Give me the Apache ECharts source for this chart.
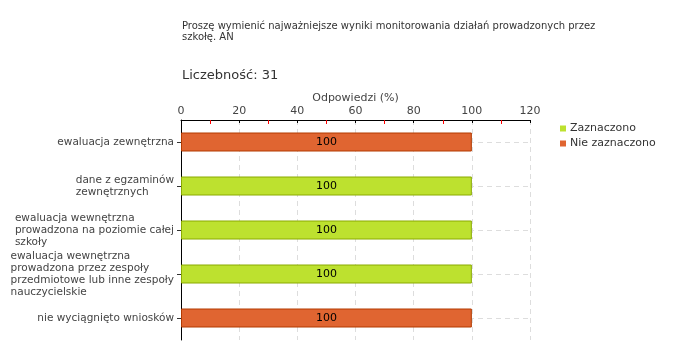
<!DOCTYPE html>
<html><head><meta charset="utf-8">
<script src="https://cdn.jsdelivr.net/npm/echarts@6/dist/echarts.min.js"></script>
<style>html,body{margin:0;padding:0;background:#fff}#c{width:680px;height:360px}</style>
</head><body><div id="c"></div>
<script>
const categories = [
  ["ewaluacja zewnętrzna"],
  ["dane z egzaminów", "zewnętrznych"],
  ["ewaluacja wewnętrzna", "prowadzona na poziomie całej", "szkoły"],
  ["ewaluacja wewnętrzna", "prowadzona przez zespoły", "przedmiotowe lub inne zespoły", "nauczycielskie"],
  ["nie wyciągnięto wniosków"]
];
const zaznaczono = [0, 100, 100, 100, 0];
const nieZaznaczono = [100, 0, 0, 0, 100];
const xTicks = [0, 20, 40, 60, 80, 100, 120];
const titleText = "Proszę wymienić najważniejsze wyniki monitorowania działań prowadzonych przez\nszkołę. AN";
const countText = "Liczebność: 31";

const font = "DejaVu Sans";
const catNames = categories.map(l => l.join("\n"));
const nz = arr => arr.map(v => v === 0 ? null : v);
const chart = echarts.init(document.getElementById('c'), null, {renderer: 'canvas'});
const lbl = {show: true, position: 'inside', color: '#000', fontFamily: font, fontSize: 11,
  formatter: p => p.value ? String(p.value) : ''};
chart.setOption({
  animation: false,
  title: [
    {text: titleText, left: 177, top: 16, textStyle: {fontFamily: font, fontSize: 10, fontWeight: 'normal', color: '#333', lineHeight: 11}},
    {text: countText, left: 177, top: 64, textStyle: {fontFamily: font, fontSize: 13, fontWeight: 'normal', color: '#333'}}
  ],
  legend: {
    orient: 'vertical', left: 555, top: 118, itemWidth: 6, itemHeight: 6, itemGap: 4,
    textStyle: {fontFamily: font, fontSize: 11, color: '#333', padding: [0,0,0,-1]},
    itemStyle: {borderWidth: 0},
    data: [{name: 'Zaznaczono', icon: 'rect'}, {name: 'Nie zaznaczono', icon: 'rect'}]
  },
  grid: {left: 181, right: 150, top: 120, bottom: 20, containLabel: false},
  xAxis: {
    type: 'value', position: 'top', min: 0, max: 120, interval: 20,
    name: 'Odpowiedzi (%)', nameLocation: 'middle', nameGap: 22, nameMoveOverlap: false,
    nameTextStyle: {fontFamily: font, fontSize: 11, color: '#444', verticalAlign: 'middle'},
    axisLine: {show: true, lineStyle: {color: '#000', width: 1}},
    axisTick: {show: true, inside: true, length: 3, lineStyle: {color: '#000'}},
    minorTick: {show: true, splitNumber: 2, length: 4, lineStyle: {color: '#ff0000', width: 1}},
    axisLabel: {fontFamily: font, fontSize: 11, color: '#444', margin: 3,
      formatter: v => xTicks.includes(v) ? String(v) : ''},
    splitLine: {show: true, lineStyle: {color: '#ddd', type: [5, 4]}}
  },
  yAxis: {
    type: 'category', inverse: true, data: catNames,
    axisLine: {show: true, onZero: false, lineStyle: {color: '#000', width: 1}},
    axisTick: {show: true, alignWithLabel: true, length: 4, lineStyle: {color: '#333'}},
    axisLabel: {fontFamily: font, fontSize: 10.5, color: '#444', margin: 7, lineHeight: 12,
      formatter: v => v.split("\n").map(s => '{a|' + s + '}').join("\n"),
      rich: {a: {align: 'left', fontFamily: font, fontSize: 10.5, color: '#444', lineHeight: 12}}},
    splitLine: {show: true, alignWithLabel: true, lineStyle: {color: '#ddd', type: [5, 4]}}
  },
  series: [
    {name: 'Zaznaczono', type: 'bar', stack: 's', data: nz(zaznaczono), barWidth: 19,
      itemStyle: {color: '#bde12f', borderColor: '#8aaa00', borderWidth: 1}, label: lbl},
    {name: 'Nie zaznaczono', type: 'bar', stack: 's', data: nz(nieZaznaczono), barWidth: 19,
      itemStyle: {color: '#e06531', borderColor: '#b33a00', borderWidth: 1}, label: lbl}
  ]
});
</script></body></html>
